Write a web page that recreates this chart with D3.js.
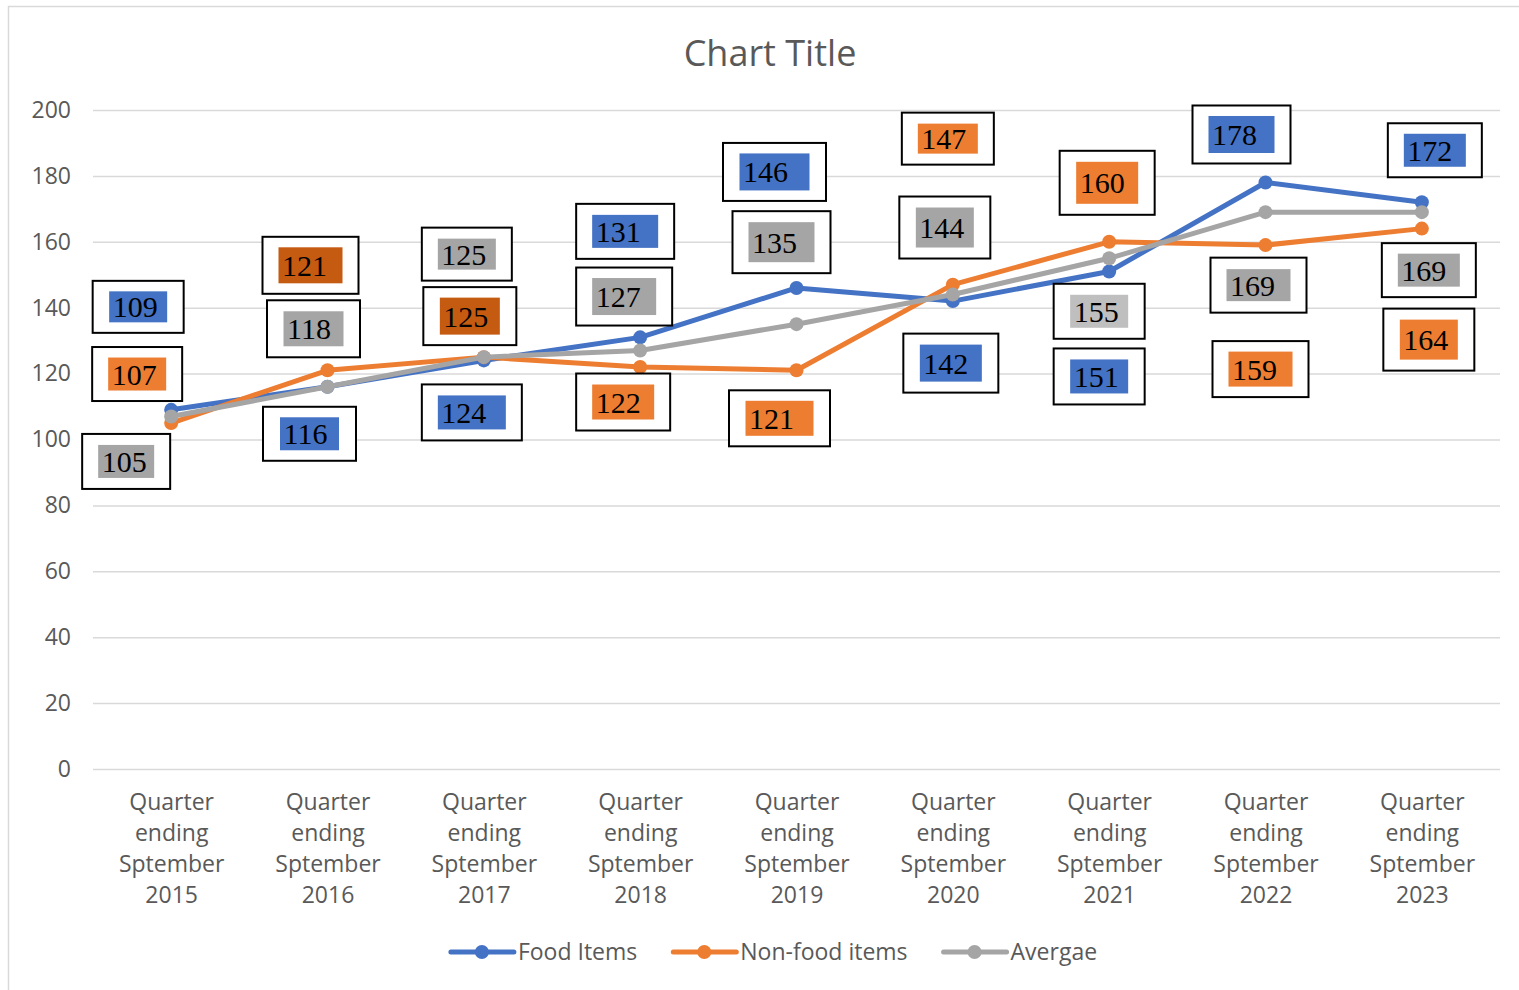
<!DOCTYPE html>
<html><head><meta charset="utf-8">
<script src="https://cdn.jsdelivr.net/npm/d3@7"></script>
<style>body{margin:0;background:#fff;overflow:hidden}</style>
</head><body><svg id="chart" width="1519" height="990"></svg>
<script>
// ---------- data ----------
const categories = [
  "Quarter ending Sptember 2015","Quarter ending Sptember 2016","Quarter ending Sptember 2017",
  "Quarter ending Sptember 2018","Quarter ending Sptember 2019","Quarter ending Sptember 2020",
  "Quarter ending Sptember 2021","Quarter ending Sptember 2022","Quarter ending Sptember 2023"];
const foodItems    = [109,116,124,131,146,142,151,178,172];
const nonFoodItems = [105,121,125,122,121,147,160,159,164];
const average      = [107,116,125,127,135,144,155,169,169];
// data label texts as shown in the chart
const foodLabels    = [109,116,124,131,146,142,151,178,172];
const nonFoodLabels = [107,121,125,122,121,147,160,159,164];
const averageLabels = [105,118,125,127,135,144,155,169,169];
const seriesNames = ["Food Items","Non-food items","Avergae"];
const yTicks = [0,20,40,60,80,100,120,140,160,180,200];
const chartTitle = "Chart Title";

// ---------- styles / layout ----------
const colors = ["#4472C4","#ED7D31","#A5A5A5"];
// per label: [dx, dy, boxW, boxH, innerW, innerH, fillOverride]
const labelLayout = [
  [[-33,-103,91,52,58,31],[-18,47,93,54,59,33],[-12,52,100,56,68,34],[-15,-106,98,55,66,33],
   [-22,-116,103,58,70,37],[-2,62,95,59,62,37],[-10,105,91,56,58,34],[-24,-48,98,58,66,37],[13,-52,94,54,62,33]],
  [[-34,-49,90,54,58,33],[-17,-105,96,57,64,36,"#C55A11"],[-14,-41,93,58,60,37,"#C55A11"],[-17,35,94,57,62,35],
   [-17,48,101,56,68,35],[-5,-146,92,52,60,30],[-2,-59,95,64,62,42],[-5,124,96,56,64,35],[7,111,91,62,58,40]],
  [[-45,45,88,55,56,33],[-14,-58,93,57,60,35],[-17,-103,90,53,58,31],[-16,-54,96,58,64,37],
   [-15,-82,98,62,66,40],[-8,-67,91,62,58,40],[-10,53,91,55,58,33,"#BFBFBF"],[-7,73,96,55,64,32],[7,58,94,54,62,33]]
];

const svg = d3.select("#chart");
const font = "'Open Sans', sans-serif";
const textColor = "#595959";

// chart frame
svg.append("rect").attr("x",8.5).attr("y",6.5).attr("width",1530).attr("height",1010)
  .attr("fill","#fff").attr("stroke","#d9d9d9").attr("stroke-width",1.5);

const x = d3.scalePoint().domain(categories).range([93,1500]).padding(0.5);
const y = d3.scaleLinear().domain([0,200]).range([769,110]);

// title
svg.append("text").attr("x",770).attr("y",66).attr("text-anchor","middle")
  .attr("font-family",font).attr("font-size",36).attr("fill",textColor).text(chartTitle);

// grid + y axis
const yAxis = d3.axisLeft(y).tickValues(yTicks).tickSize(-(1500-93)).tickPadding(22);
const gy = svg.append("g").attr("transform","translate(93,0)").call(yAxis);
gy.select(".domain").remove();
gy.selectAll(".tick line").attr("stroke","#d9d9d9").attr("stroke-width",1.5);
gy.selectAll(".tick text").attr("font-family",font).attr("font-size",23).attr("fill",textColor);

// x axis labels
const xAxis = d3.axisBottom(x).tickSize(0).tickFormat("");
const gx = svg.append("g").attr("transform","translate(0,769)").call(xAxis);
gx.select(".domain").remove();
gx.selectAll(".tick").each(function(d){
  const words = d.split(" ");
  const t = d3.select(this).append("text").attr("text-anchor","middle")
    .attr("font-family",font).attr("font-size",23).attr("fill",textColor);
  words.forEach((w,i)=>{
    t.append("tspan").attr("x",0).attr("y",41 + i*31).text(w);
  });
});

// series lines
const seriesData = [foodItems, nonFoodItems, average];
const labelData = [foodLabels, nonFoodLabels, averageLabels];
const line = d3.line().x((d,i)=>x(categories[i])).y(d=>y(d));
seriesData.forEach((vals,s)=>{
  const g = svg.append("g");
  g.append("path").datum(vals).attr("d",line).attr("fill","none")
    .attr("stroke",colors[s]).attr("stroke-width",5).attr("stroke-linejoin","round").attr("stroke-linecap","round");
  g.selectAll("circle").data(vals).join("circle")
    .attr("cx",(d,i)=>x(categories[i])).attr("cy",d=>y(d)).attr("r",7).attr("fill",colors[s]);
});

// data labels
seriesData.forEach((vals,s)=>{
  vals.forEach((v,i)=>{
    const [dx,dy,w,h,iw,ih,fill] = labelLayout[s][i];
    const cx = x(categories[i]) + dx, cy = y(v) + dy;
    const g = svg.append("g");
    g.append("rect").attr("x",cx-w/2).attr("y",cy-h/2).attr("width",w).attr("height",h)
      .attr("fill","#fff").attr("stroke","#000").attr("stroke-width",2);
    g.append("rect").attr("x",cx-iw/2).attr("y",cy-ih/2).attr("width",iw).attr("height",ih)
      .attr("fill",fill || colors[s]);
    g.append("text").attr("x",cx-iw/2+3.5).attr("y",cy+10.5)
      .attr("font-family","'Liberation Serif','Times New Roman',serif").attr("font-size",30)
      .attr("fill","#000").text(labelData[s][i]);
  });
});

// legend
const legend = svg.append("g");
let lx = 0;
seriesNames.forEach((name,s)=>{
  const g = legend.append("g").attr("transform",`translate(${lx},0)`);
  g.append("line").attr("x1",0).attr("x2",63).attr("y1",0).attr("y2",0)
    .attr("stroke",colors[s]).attr("stroke-width",5).attr("stroke-linecap","round");
  g.append("circle").attr("cx",31).attr("cy",0).attr("r",7).attr("fill",colors[s]);
  const t = g.append("text").attr("x",67).attr("y",8).attr("font-family",font)
    .attr("font-size",23).attr("fill",textColor).text(name);
  lx += 67 + t.node().getComputedTextLength() + 36;
});
const legW = lx - 36;
legend.attr("transform",`translate(${774 - legW/2},952)`);
</script>
</body></html>
